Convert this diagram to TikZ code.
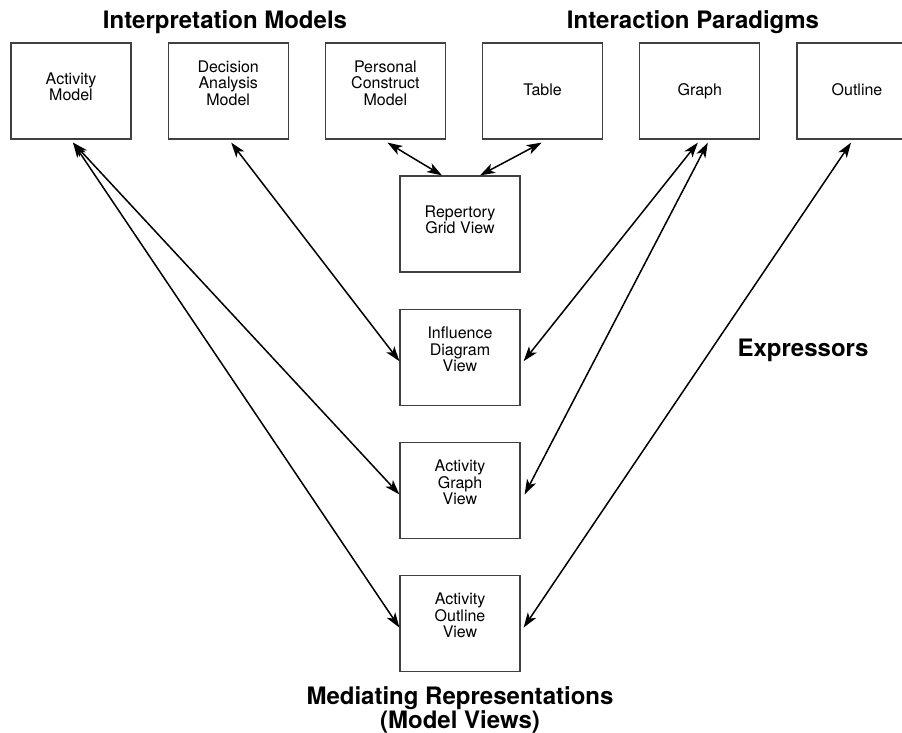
\documentclass[tikz,border=0pt]{standalone}
\usepackage{fontspec}
\setmainfont{TeX Gyre Heros}
\usetikzlibrary{positioning,arrows.meta}
\definecolor{edgegray}{HTML}{404040}

\begin{document}
\begin{tikzpicture}[%
  x=1pt, y=-1pt,
  node distance=36pt,
  view/.style={draw=edgegray, line width=1.2pt, minimum width=120pt,
    minimum height=96pt, inner sep=0pt, align=center,
    font=\fontsize{16}{16.5}\selectfont, text depth=#1},
  view/.default=2pt,
  heading/.style={font=\bfseries\fontsize{24}{24}\selectfont, align=center,
    inner sep=0pt},
  link/.style={{Stealth[length=15pt,width=10pt,inset=4pt]}-{Stealth[length=15pt,width=10pt,inset=4pt]},
    line width=1.5pt}]
\useasboundingbox (0,0) rectangle (902,732);

% interpretation models and interaction paradigms
\node[view=9pt] (am) at (71,91) {Activity\\Model};
\node[view=16pt, right=of am] (dam) {Decision\\Analysis\\Model};
\node[view=16pt, right=of dam] (pcm) {Personal\\Construct\\Model};
\node[view, right=of pcm] (tab) {Table};
\node[view, right=of tab] (gra) {Graph};
\node[view, right=of gra] (out) {Outline};

% model views
\node[view=9pt] (rgv) at (460,224) {Repertory\\Grid View};
\node[view=16pt, below=of rgv] (idv) {Influence\\Diagram\\View};
\node[view=16pt, below=of idv] (agv) {Activity\\Graph\\View};
\node[view=16pt, below=of agv] (aov) {Activity\\Outline\\View};

\node[heading, anchor=base] (imtitle) at (225,28) {Interpretation Models};
\node[heading, anchor=base] (iptitle) at (693,28) {Interaction Paradigms};
\node[heading, anchor=base] (extitle) at (803,356) {Expressors};
\node[heading, anchor=north] (mrtitle) at (460,686) {Mediating Representations\\(Model Views)};

% expressors
\draw[link] ([xshift=2pt,yshift=-3pt]am.south) -- ([yshift=-4pt]agv.west);
\draw[link] ([xshift=2pt,yshift=-3pt]am.south) -- ([yshift=-4pt]aov.west);
\draw[link] ([xshift=3pt,yshift=-3pt]dam.south) -- ([yshift=-4pt]idv.west);
\draw[link] ([xshift=2pt,yshift=-3pt]pcm.south) -- ([xshift=-18pt]rgv.north);
\draw[link] ([xshift=-1pt,yshift=-3pt]tab.south) -- ([xshift=20pt]rgv.north);
\draw[link] ([xshift=-2pt,yshift=-3pt]gra.south) -- ([xshift=3pt,yshift=-4pt]idv.east);
\draw[link] ([xshift=8pt,yshift=-3pt]gra.south) -- ([xshift=4pt,yshift=-4pt]agv.east);
\draw[link] ([xshift=-6pt,yshift=-3pt]out.south) -- ([xshift=3pt,yshift=-4pt]aov.east);
\end{tikzpicture}
\end{document}
